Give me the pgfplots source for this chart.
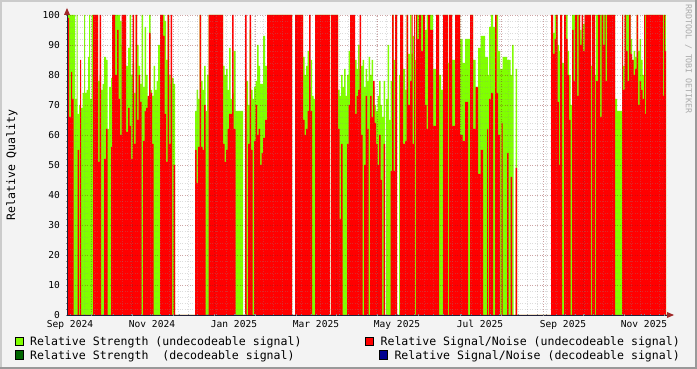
\documentclass[border=0pt]{standalone}
\usepackage{fontspec}
\setmainfont{DejaVu Sans Mono}
\usepackage{pgfplots}
\pgfplotsset{compat=1.18}
\usepackage{pgfplotstable}
\definecolor{strong}{HTML}{80FF00}
\definecolor{snr}{HTML}{FF0000}
\definecolor{dgreen}{HTML}{006600}
\definecolor{navyc}{HTML}{000090}
\definecolor{backc}{HTML}{F3F3F3}
\definecolor{mgridc}{HTML}{821E1E}
\definecolor{gridc}{HTML}{8C8C8C}
\definecolor{axisc}{HTML}{20203A}
\definecolor{arrowc}{HTML}{A02828}
\definecolor{shadea}{HTML}{CBCBCB}
\definecolor{shadeb}{HTML}{999999}
\definecolor{wmc}{HTML}{AAAAAA}

\pgfplotstableread{
x g r
67 73 50
68 100 99
69 100 66
71 100 81
72 100 72
73.5 100 0
75 72 0
76.5 100 0
77.5 67 55
79 70 0
80 66 85
81 69 0
82.5 74 0
84 100 0
85 74 0
86.5 75 0
88 86 0
89 100 0
90 72 0
91.5 100 0
93 100 100
98 78 51
99.5 80 100
101 75 0
102.5 77 0
104 86 52
106 85 62
107.5 62 0
109 76 0
111 79 56
112 100 100
115 100 80
117 100 95
118.5 100 72
120 98 60
121.5 90 100
123.5 100 100
126 83 61
128 89 69
129.5 100 63
131 80 52
132.5 84 100
134 74 57
135.5 100 100
137 90 65
138.5 83 80
140 77 71
141.5 100 0
143 76 58
144.5 96 68
146 80 69
147.5 72 73
149 100 94
150.5 75 74
152 73 57
153.5 83 0
155 75 0
156.5 78 0
158 90 0
160 100 100
163 100 93
164.5 98 67
166 85 51
167.5 100 100
169 80 57
170.5 77 100
172 79 0
173.5 77 50
175 0 0
195 68 55
196.5 75 44
198 72 56
199.5 100 100
201 78 56
202.5 75 55
204 83 70
205.5 68 0
207 80 0
208.5 100 100
223 83 57
224.5 80 51
226 82 55
227.5 75 62
229 89 67
230.5 72 67
232 74 100
233.5 88 62
235.5 68 0
243 0 0
245 78 100
246.5 78 0
248 70 57
249.5 95 100
251 75 55
252.5 72 0
254 76 58
255.5 78 70
257 90 60
258.5 83 62
260 77 50
261.5 77 54
263 93 59
265 83 65
267 100 100
292 0 0
295 100 100
303 86 65
304.5 80 60
306 83 62
307.5 88 68
309 76 100
310.5 85 68
312 73 0
313.5 72 0
315 100 100
330 0 0
331 100 100
338 75 62
339.5 73 32
341 80 57
342.5 76 0
344 82 0
345.5 73 0
347 80 57
348.5 88 70
350 85 100
355 85 67
356.5 82 73
358 90 75
359.5 82 100
361 83 60
362.5 85 0
364 76 50
365.5 82 73
367 78 62
368.5 86 0
370 80 73
371.5 85 66
373 76 78
374.5 70 64
376 68 57
377.5 73 50
379 78 60
380.5 70 45
382 66 0
383.5 78 57
385 0 0
386 72 0
387.5 90 0
389 65 0
390.5 78 48
392 100 100
393.5 85 48
395 100 100
397 0 0
399 80 0
400 100 100
403 82 57
405 75 58
406.5 100 100
408 87 70
410 100 78
411.5 87 100
412.5 93 57
414 100 100
415 85 0
416 100 100
417 100 92
419 96 100
421 100 88
423 94 100
425 95 70
426.5 100 62
428 88 100
430 100 95
433 82 63
436 100 100
439 80 0
441 75 0
443 100 100
448 84 0
449 100 100
452 85 63
455 100 100
460 92 60
462.5 84 58
465 92 71
468 92 0
470 100 100
473 85 62
475.5 76 76
478 89 47
480.5 93 55
483 93 0
485 86 0
487 86 62
488 80 0
489 96 72
491 100 74
493 96 0
495 100 100
496.5 100 74
498 88 60
500 82 0
501.5 82 64
502.5 86 0
507 85 54
508.5 85 0
510.5 80 46
512 90 0
513.5 0 0
515.5 82 49
517 0 0
551 100 100
553 94 87
554.5 100 92
556 100 100
557.5 90 71
559 88 50
560 100 100
562 84 0
564 90 100
566 100 92
567.5 88 80
569 80 65
570.5 70 0
572 100 95
573.5 100 78
575 96 100
577 100 73
578.5 100 100
580 95 90
581.5 92 100
583 97 88
584.5 100 100
591 83 0
592 100 100
595 80 0
596 100 78
598 100 100
600 100 66
601.5 100 100
603 100 90
604.5 100 100
605.5 100 78
607 100 100
615 72 0
617 68 0
622 100 100
623 83 75
624.5 100 100
626 100 88
627.5 100 78
629 100 100
630.5 92 87
632 85 85
633.5 88 80
635 86 82
636.5 100 100
638 88 70
639.5 92 78
641 85 75
642.5 80 72
644 100 100
645 100 67
646 100 100
663 100 73
664 100 100
665 100 88
666 0 0
667 0 0
}\qual

\begin{document}
\begin{tikzpicture}
\useasboundingbox (0,0) rectangle (697bp,369bp);
\fill[backc] (0,0) rectangle (697bp,369bp);
\draw[shadea, line width=2bp] (1bp,0) -- (1bp,368bp) -- (697bp,368bp);
\draw[shadeb, line width=2bp] (0,1bp) -- (696bp,1bp) -- (696bp,369bp);
\begin{axis}[
  at={(67bp,54bp)}, anchor=south west,
  scale only axis, width=600bp, height=300bp,
  xmin=67, xmax=667, ymin=0, ymax=100,
  axis lines=left,
  axis line style={-, draw=axisc, line width=0.8bp},
  axis on top,
  axis background/.style={fill=white},
  /pgf/number format/assume math mode=true,
  xtick={70,152,234,316,397,480,563,644},
  xticklabels={Sep 2024,Nov 2024,Jan 2025,Mar 2025,May 2025,Jul 2025,Sep 2025,Nov 2025},
  minor xtick={75.09,84.52,...,660},
  extra x ticks={91,132,173,214,255,296,336,377,418,460,501,543,583,624,664},
  extra x tick labels={},
  extra x tick style={grid=major},
  ytick={0,10,...,100},
  minor y tick num=4,
  ymajorgrids, yminorgrids, xminorgrids,
  major grid style={draw=mgridc, draw opacity=0.4, dash pattern=on 1bp off 1.5bp, line width=0.8bp},
  minor grid style={draw=gridc, draw opacity=0.3, dash pattern=on 1bp off 1.5bp, line width=0.8bp},
  tick style={draw=gridc, line width=0.6bp},
  major tick length=2bp, minor tick length=1.5bp,
  xticklabel style={font=\fontsize{9.6pt}{11pt}\selectfont, anchor=north, inner sep=0pt, yshift=-4bp},
  yticklabel style={font=\fontsize{9.6pt}{11pt}\selectfont, anchor=east, inner sep=0pt, xshift=-6bp},
  ylabel={Relative Quality},
  ylabel style={font=\fontsize{11.6pt}{13pt}\selectfont, at={(axis description cs:-0.0917,0.5)}, anchor=center},
]
\addplot[const plot, fill=strong, draw=none] table[x=x,y=g]{\qual} \closedcycle;
\addplot[const plot, fill=snr, draw=none] table[x=x,y=r]{\qual} \closedcycle;
\end{axis}
\fill[arrowc] (64bp,354bp) -- (70bp,354bp) -- (67bp,361bp) -- cycle;
\fill[arrowc] (667bp,51bp) -- (667bp,57bp) -- (674bp,54bp) -- cycle;
\node[rotate=-90, text=wmc, font=\fontsize{8.3pt}{9pt}\selectfont] at (688.5bp,310bp) {RRDTOOL / TOBI OETIKER};
\begin{scope}[every node/.style={inner sep=0pt, font=\fontsize{11.6pt}{13pt}\selectfont}]
\node[anchor=base west] (t1) at (30bp,24bp) {Relative Strength (undecodeable signal)};
\node[anchor=base west] (t2) at (30bp,10bp) {Relative Strength\ \ (decodeable signal)};
\node[anchor=base east] (t3) at (680bp,24bp) {Relative Signal/Noise (undecodeable signal)};
\node[anchor=base east] (t4) at (680bp,10bp) {Relative Signal/Noise (decodeable signal)};
\end{scope}
\filldraw[fill=strong, draw=black, line width=0.8bp] ([xshift=-15bp,yshift=-0.7bp]t1.base west) rectangle ++(8.4bp,8.4bp);
\filldraw[fill=dgreen, draw=black, line width=0.8bp] ([xshift=-15bp,yshift=-0.3bp]t2.base west) rectangle ++(8.4bp,8.4bp);
\filldraw[fill=snr, draw=black, line width=0.8bp] ([xshift=-15bp,yshift=-0.7bp]t3.base west) rectangle ++(8.4bp,8.4bp);
\filldraw[fill=navyc, draw=black, line width=0.8bp] ([xshift=-15bp,yshift=-0.3bp]t4.base west) rectangle ++(8.4bp,8.4bp);
\end{tikzpicture}
\end{document}
